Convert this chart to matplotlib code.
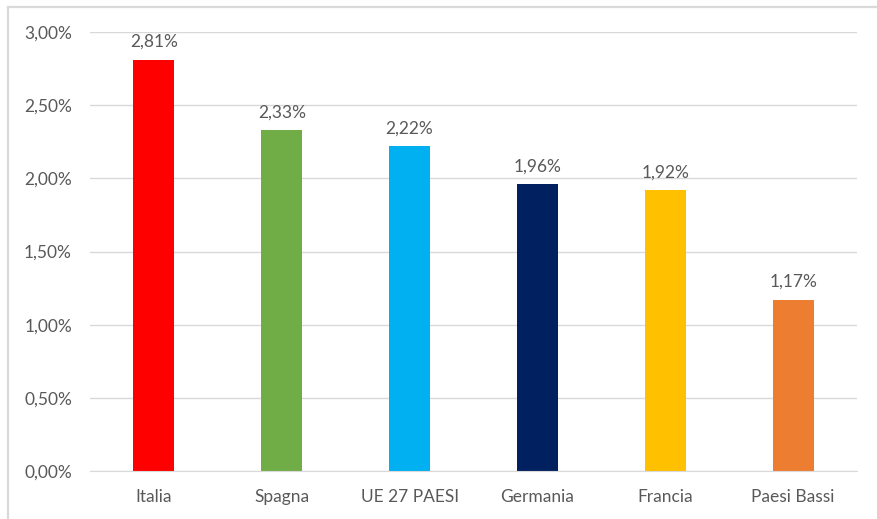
import matplotlib
matplotlib.use("Agg")
import matplotlib.pyplot as plt
from matplotlib.lines import Line2D
from matplotlib.ticker import FuncFormatter, MultipleLocator

# data
paesi = ["Italia", "Spagna", "UE 27 PAESI", "Germania", "Francia", "Paesi Bassi"]
valori = [2.81, 2.33, 2.22, 1.96, 1.92, 1.17]
colori = ["#FF0000", "#70AD47", "#00B0F0", "#002060", "#FFC000", "#ED7D31"]

plt.rcParams['font.family'] = ['Lato', 'DejaVu Sans']
testo = "#595959"

fig = plt.figure(figsize=(8.77, 5.19), dpi=100)
ax = fig.add_axes([90/877, 1 - 471/519, 767/877, 439/519])

x = range(len(paesi))
bars = ax.bar(x, valori, width=0.32, color=colori, zorder=3)
for b, v in zip(bars, valori):
    ax.annotate(("%.2f%%" % v).replace(".", ","),
                (b.get_x() + b.get_width()/2, v),
                xytext=(0, 7), textcoords="offset points",
                ha="center", va="bottom", fontsize=12.5, color=testo)

ax.set_xlim(-0.5, len(paesi) - 0.5)
ax.set_ylim(0, 3.0)
ax.yaxis.set_major_locator(MultipleLocator(0.5))
ax.yaxis.set_major_formatter(FuncFormatter(lambda v, p: ("%.2f%%" % v).replace(".", ",")))
ax.set_xticks(list(x))
ax.set_xticklabels(paesi)
ax.tick_params(axis="both", length=0, labelsize=12.5, labelcolor=testo)
ax.tick_params(axis="y", pad=13)
ax.tick_params(axis="x", pad=13)
ax.grid(axis="y", color="#D9D9D9", lw=1, zorder=0)
for s in ["top", "right", "left"]:
    ax.spines[s].set_visible(False)
ax.spines["bottom"].set_color("#D9D9D9")
ax.spines["bottom"].set_zorder(4)

# bordo del grafico (solo alto e sinistra visibili)
fig.add_artist(Line2D([7.5/877, 1], [1 - 6.5/519, 1 - 6.5/519], color="#D9D9D9", lw=1.6))
fig.add_artist(Line2D([7.5/877, 7.5/877], [0, 1 - 6.5/519], color="#D9D9D9", lw=1.6))

fig.savefig("out.png", dpi=100)
